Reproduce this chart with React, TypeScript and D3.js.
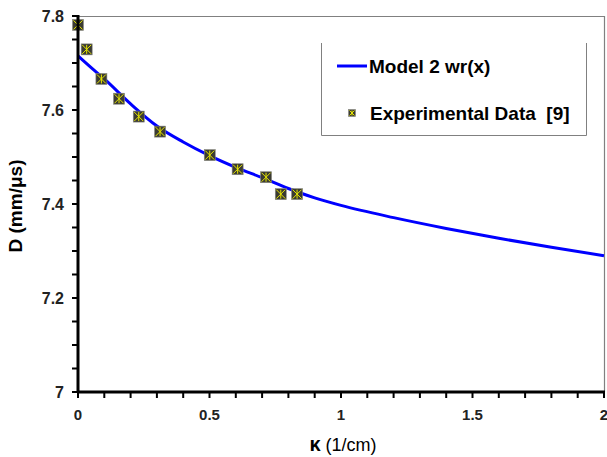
import React from "react";
import * as d3 from "d3";

// experimental points [9]
const expK = [0, 0.033, 0.089, 0.156, 0.231, 0.312, 0.501, 0.607, 0.715, 0.771, 0.833];
const expD = [7.781, 7.729, 7.666, 7.624, 7.586, 7.554, 7.504, 7.474, 7.457, 7.421, 7.421];

// model 2 wr(x) curve
const modelK = [0, 0.05, 0.1, 0.2, 0.3, 0.4, 0.5, 0.6, 0.7, 0.8, 0.9, 1.0, 1.2, 1.4, 1.6, 1.8, 2.0];
const modelD = [7.715, 7.69, 7.666, 7.613, 7.566, 7.532, 7.503, 7.478, 7.456, 7.433, 7.413, 7.397, 7.371, 7.348, 7.327, 7.308, 7.29];

const xTicks = [0, 0.5, 1, 1.5, 2];
const yTicks = [7, 7.2, 7.4, 7.6, 7.8];

const W = 607;
const H = 457;

function Marker({ cx, cy, s }: { cx: number; cy: number; s: number }) {
  const h = s / 2;
  return (
    <g transform={`translate(${cx},${cy})`}>
      <rect x={-h} y={-h} width={s} height={s} fill="#3b3b32" stroke="#8a8a80" strokeWidth={0.6} />
      <path
        d={`M${-h + 1},${-h + 1}L${h - 1},${h - 1}M${h - 1},${-h + 1}L${-h + 1},${h - 1}M0,${-h + 1}L0,${h - 1}`}
        stroke="#e6e600"
        strokeWidth={1}
        fill="none"
      />
    </g>
  );
}

export default function App() {
  const x = d3.scaleLinear().domain([0, 2]).range([78, 604]);
  const y = d3.scaleLinear().domain([7, 7.8]).range([392, 16]);

  const pts = modelK.map((k, i) => [k, modelD[i]] as [number, number]);
  const line = d3
    .line<[number, number]>()
    .curve(d3.curveMonotoneX)
    .x((d) => x(d[0]))
    .y((d) => y(d[1]));

  const xMinor = d3.range(0, 2.0001, 0.1);
  const yMinor = d3.range(7, 7.8001, 0.05);
  const font = "Arial, 'Liberation Sans', sans-serif";

  return (
    <svg width={W} height={H} style={{ position: "absolute", left: 0, top: 0 }} fontFamily={font}>
      <rect width={W} height={H} fill="#fff" />
      {/* frame top/right */}
      <line x1={78} x2={605} y1={16.5} y2={16.5} stroke="#808080" strokeWidth={1} />
      <line x1={604.5} x2={604.5} y1={16} y2={392} stroke="#808080" strokeWidth={1.2} />

      {/* model curve */}
      <path d={line(pts) || ""} fill="none" stroke="#0000ff" strokeWidth={3} />

      {/* experimental data */}
      {expK.map((k, i) => (
        <Marker key={i} cx={x(k)} cy={y(expD[i])} s={11} />
      ))}

      {/* axes */}
      <line x1={78} x2={78} y1={15} y2={393} stroke="#000" strokeWidth={3} />
      <line x1={77} x2={605} y1={392} y2={392} stroke="#000" strokeWidth={3} />
      {yMinor.map((v, i) => (
        <line key={i} x1={72} x2={78} y1={y(v)} y2={y(v)} stroke="#000" strokeWidth={2} />
      ))}
      {xMinor.map((v, i) => (
        <line key={i} x1={x(v)} x2={x(v)} y1={392} y2={398} stroke="#000" strokeWidth={2} />
      ))}
      {yTicks.map((v) => (
        <text key={v} x={64} y={y(v) + 5.5} textAnchor="end" fontSize={16} fontWeight="bold" fill="#222">
          {d3.format("")(v)}
        </text>
      ))}
      {xTicks.map((v) => (
        <text key={v} x={x(v)} y={420} textAnchor="middle" fontSize={15} fontWeight="bold" fill="#222">
          {d3.format("")(v)}
        </text>
      ))}

      {/* axis titles */}
      <text
        transform={`translate(22,206) rotate(-90)`}
        textAnchor="middle"
        fontSize={19}
        fontWeight="bold"
        fill="#000"
      >
        D (mm/μs)
      </text>
      <text x={343} y={451} textAnchor="middle" fontSize={18} fill="#000">
        <tspan fontWeight="bold" fontSize={20}>κ</tspan> (1/cm)
      </text>

      {/* legend */}
      <path d="M321.5,43V135.5H586.5V43" fill="none" stroke="#808080" strokeWidth={1} />
      <line x1={337} x2={367} y1={66} y2={66} stroke="#0000ff" strokeWidth={3} />
      <text x={369} y={72.5} fontSize={19} fontWeight="bold" fill="#000">
        Model 2 wr(x)
      </text>
      <Marker cx={352} cy={113} s={7} />
      <text x={370} y={119.5} fontSize={19} fontWeight="bold" fill="#000" style={{ whiteSpace: "pre" }}>
        {"Experimental Data  [9]"}
      </text>
    </svg>
  );
}
